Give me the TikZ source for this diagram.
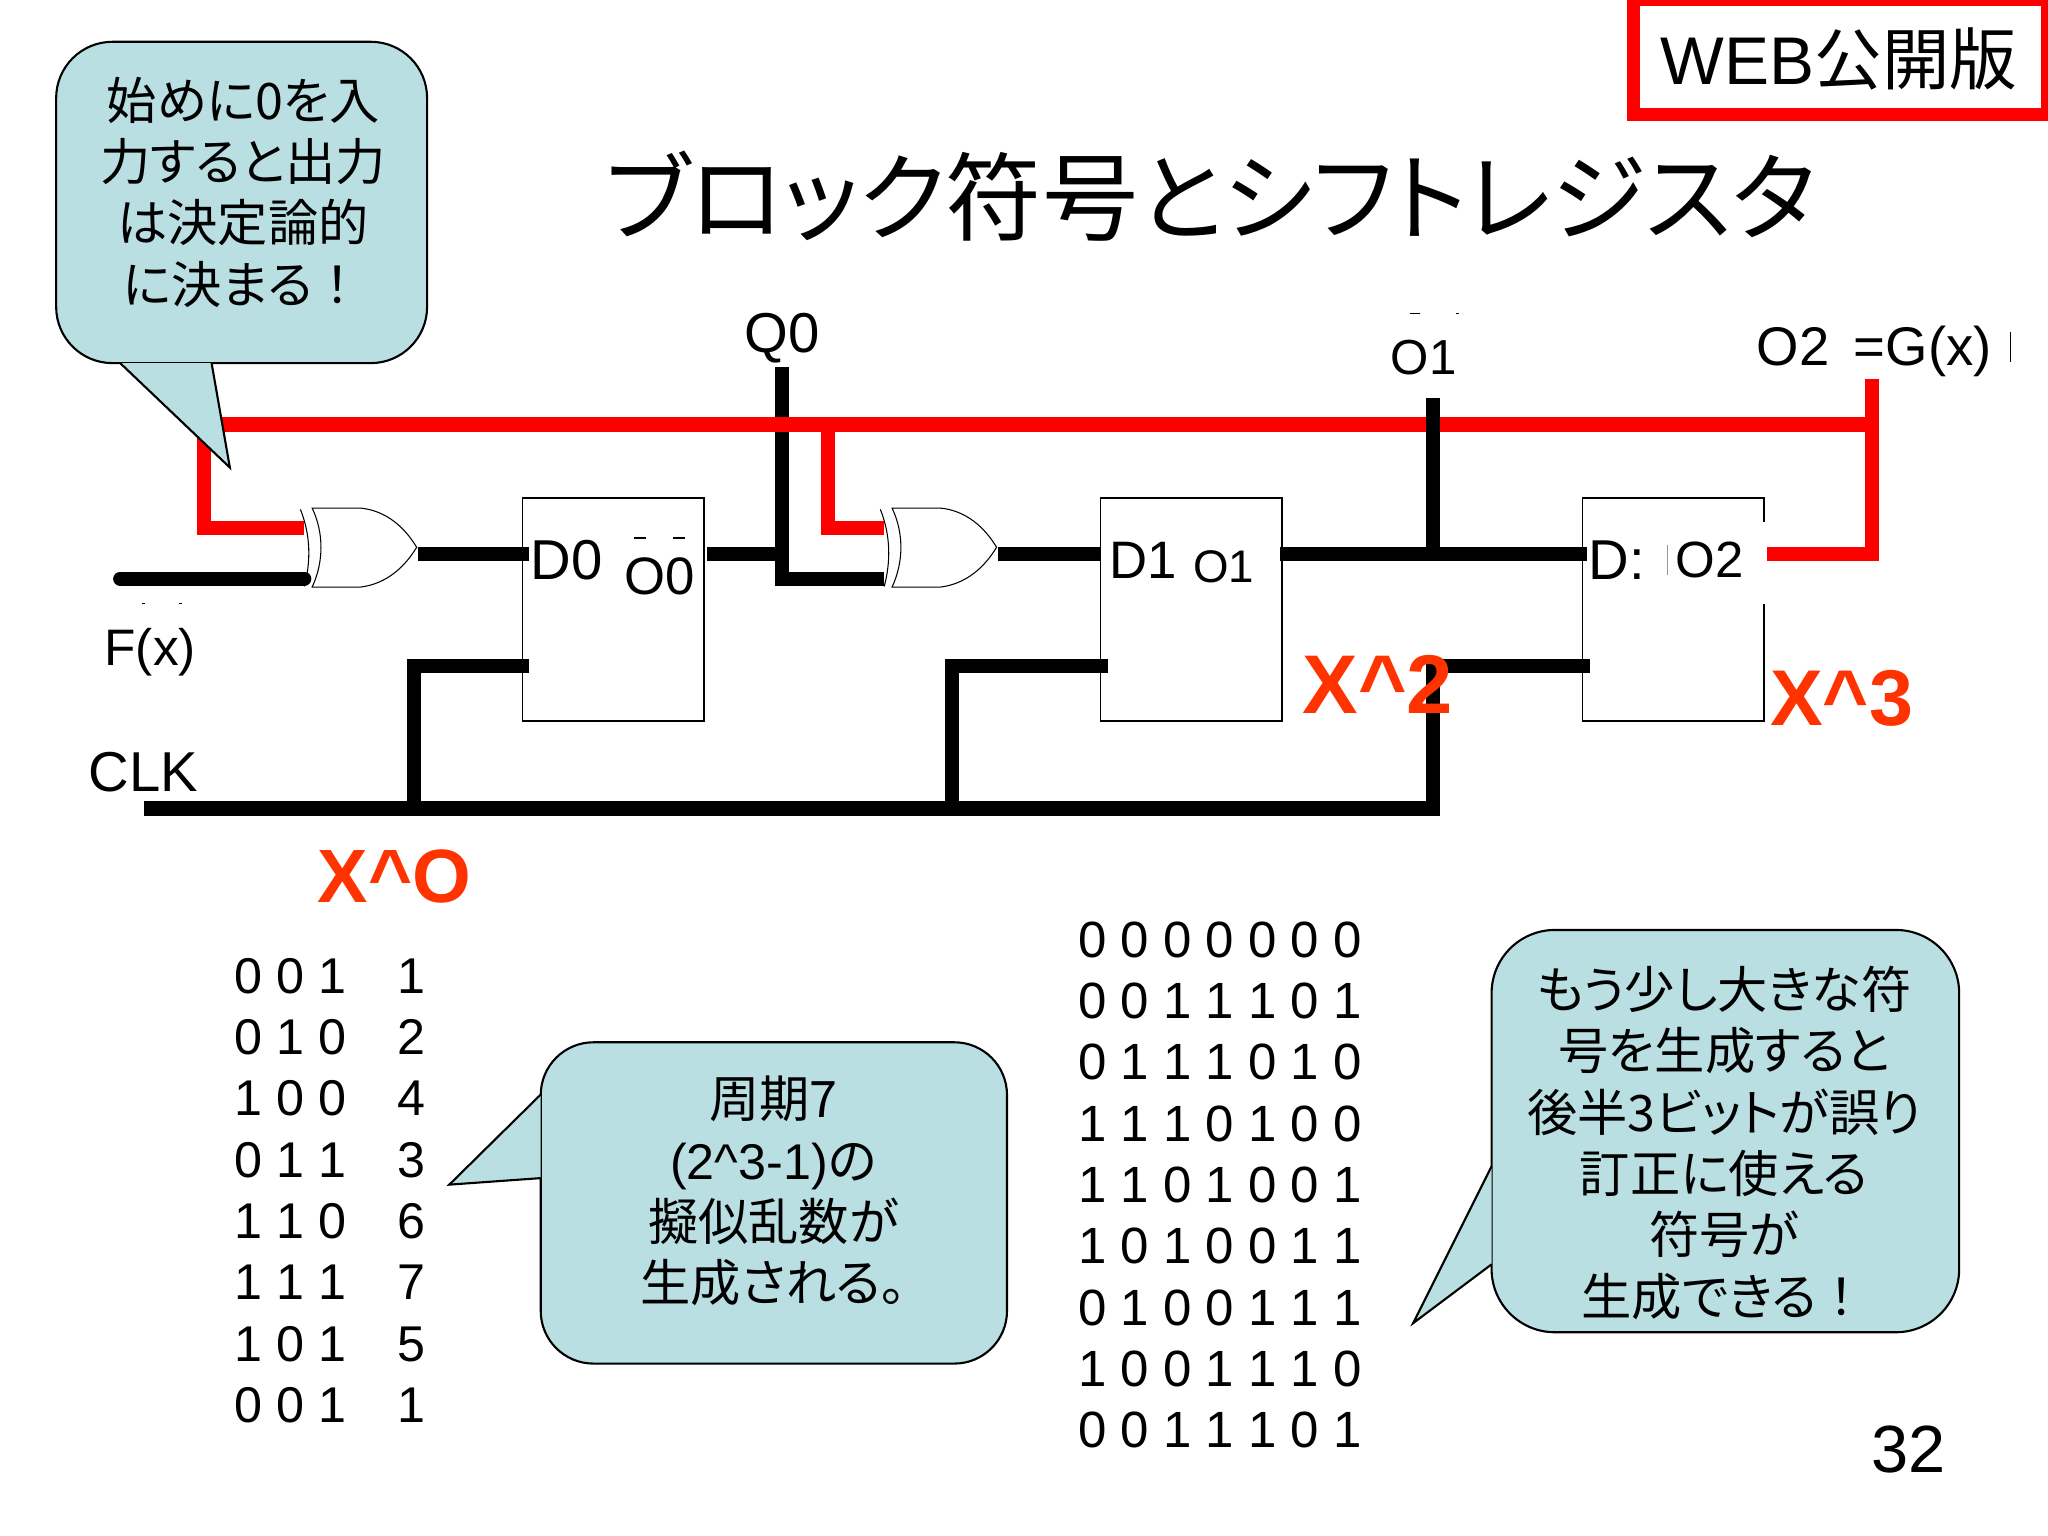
\documentclass[tikz,border=0pt]{standalone}
\usepackage{fontspec}
\setmainfont{Liberation Sans}
\newfontfamily\cjk[RawFeature=+palt]{Noto Sans CJK JP}
\newfontfamily\cjkfull{Noto Sans CJK JP}
\definecolor{bubblefill}{HTML}{B9DFE3}
\definecolor{powerred}{HTML}{FF3300}
\begin{document}
\begin{tikzpicture}[x=0.013061cm,y=-0.013061cm,
    wire/.style={line width=4pt,line join=miter},
    redwire/.style={wire,color=red},
    gateline/.style={line width=.3pt,fill=white},
    ff/.style={draw,fill=white,line width=.5pt,minimum width=1.815cm,minimum height=2.233cm,inner sep=0pt},
    bubble/.style={draw,fill=bubblefill,line width=.6pt},
    tail/.style={line width=.6pt,line join=miter},
    talk/.style={align=center,inner sep=0pt,font=\fontsize{14.3}{17.45}\selectfont\cjk},
    lab/.style={inner sep=0pt,font=\fontsize{16}{18}\selectfont},
    power/.style={inner sep=0pt,text=powerred,font=\fontsize{#1}{24}\selectfont\bfseries},
    tbl/.style={inner sep=0pt,align=left,font=\fontsize{#1}{17.45}\selectfont},
    speck/.style={fill=black,inner sep=0pt,minimum width=#1,minimum height=.5pt},
    patch/.style={fill=white,inner sep=0pt,minimum width=.07cm,minimum height=.82cm}]
  \useasboundingbox (0,0) rectangle (1568,1176);

  \coordinate (gtop) at (1433,325);
  \coordinate (gend) at (1433,290);
  \coordinate (gin) at (1433,424);
  \coordinate (rleft) at (156,325);
  \coordinate (rmid) at (634,325);
  \coordinate (qtop) at (599,281);
  \coordinate (qbot) at (599,443);
  \coordinate (qjoin) at (599,424);
  \coordinate (otop) at (1097,305);
  \coordinate (ojoin) at (1097,424);
  \coordinate (clkl) at (110,619);
  \coordinate (clka) at (317,619);
  \coordinate (clkb) at (729,619);
  \coordinate (clkc) at (1097,619);

  \foreach \gx/\gname in {0/ga,444/gb} {
    \coordinate (\gname r) at (233+\gx,404);
    \coordinate (\gname f) at (233+\gx,443);
    \coordinate (\gname o) at (320+\gx,424);
    \draw[gateline,fill=none] (230+\gx,390) .. controls (238+\gx,410) and (238+\gx,430) .. (233+\gx,449);
    \draw[gateline] (239+\gx,389) -- (276+\gx,389) .. controls (296+\gx,391) and (310+\gx,404) .. (319+\gx,419)
      .. controls (310+\gx,434) and (296+\gx,447) .. (276+\gx,449.5) -- (239+\gx,449.5)
      .. controls (248+\gx,430) and (248+\gx,408) .. cycle;
  }

  \node[ff] (d0) at (469.5,466.5) {};
  \node[ff] (d1) at (912,466.5) {};
  \node[ff] (d2) at (1281,466.5) {};
  \node[patch] (gap) at (1351,431) {};

  \coordinate (d0i) at (405,424);
  \coordinate (d0o) at (541,424);
  \coordinate (d0c) at (405,510);
  \coordinate (d1i) at (842,424);
  \coordinate (d1o) at (980,424);
  \coordinate (d1c) at (848,510);
  \coordinate (d2i) at (1215,424);
  \coordinate (d2o) at (1353,424);
  \coordinate (d2c) at (1217,510);
  \coordinate (fin) at (92,443);

  \draw[wire,line cap=round] (fin) -- (gaf);
  \draw[wire] (gao) -- (d0i);
  \draw[wire] (d0o) -- (qjoin);
  \draw[wire] (qtop) -- (qbot) -- (gbf);
  \draw[wire] (gbo) -- (d1i);
  \draw[wire] (d1o) -- (d2i);
  \draw[wire] (d0c) -| (clka);
  \draw[wire] (d1c) -| (clkb);
  \draw[wire] (d2c) -| (clkc) -- (clkl);

  \draw[redwire] (gtop) -- (rleft) -- (rleft |- gar) -- (gar);
  \draw[redwire] (rmid) -- (rmid |- gbr) -- (gbr);
  \draw[redwire] (gend) -- (gin) -- (d2o);
  \draw[wire] (otop) -- (ojoin);

  \draw[bubble,rounded corners=16pt] (43,32) rectangle (327,278);
  \fill[bubblefill] (92,278) -- (176,358) -- (162,278) -- cycle;
  \draw[tail] (92,278) -- (176,358) -- (162,278);
  \draw[bubble,rounded corners=15pt] (414,798) rectangle (771,1044);
  \fill[bubblefill] (414,838) -- (344,907) -- (414,902) -- cycle;
  \draw[tail] (414,838) -- (344,907) -- (414,902);
  \draw[bubble,rounded corners=18pt] (1142,712) rectangle (1500,1020);
  \fill[bubblefill] (1142,893) -- (1082,1013) -- (1142,968) -- cycle;
  \draw[tail] (1142,893) -- (1082,1013) -- (1142,968);

  \node[talk] (callstart) at (186,147) {始めに0を入\\力すると出力\\は決定論的\\に決まる{\cjkfull ！}};
  \node[talk] (callperiod) at (592,912) {周期7\\{\normalfont (2\^{}3-1)}の\\擬似乱数が\\生成される。};
  \node[talk] (calllarge) at (1320,875) {もう少し大きな符\\号を生成すると\\後半3ビットが誤り\\訂正に使える\\符号が\\生成できる{\cjkfull ！}};

  \node[draw=red,line width=3.7pt,fill=white,minimum width=4.14cm,minimum height=1.15cm,inner sep=0pt] (webbox) at (1409.5,44) {};
  \node[inner sep=0pt,font=\fontsize{19.2}{22}\selectfont] (webtext) at (1408,45) {WEB{\cjk 公開版}};
  \node[inner sep=0pt,font=\fontsize{27.4}{32}\selectfont\cjk] (title) at (927,150) {ブロック符号とシフトレジスタ};

  \node[lab] (q0) at (599,259) {Q0};
  \node[lab,font=\fontsize{14}{16}\selectfont] (o1top) at (1090,274) {O1};
  \node[lab,font=\fontsize{15.5}{16}\selectfont] (g2) at (1435,269) {O2 \,=G(x)};
  \node[lab,font=\fontsize{14.6}{16}\selectfont] (fx) at (115,499) {F(x)};
  \node[lab] (clk) at (110,591) {CLK};
  \node[lab] (d0t) at (434,429) {D0};
  \node[lab,font=\fontsize{15}{16}\selectfont] (o0) at (505,441) {O0};
  \node[lab,font=\fontsize{15}{16}\selectfont] (d1t) at (875,429) {D1};
  \node[lab,font=\fontsize{13}{16}\selectfont] (o1) at (937,434) {O1};
  \node[lab] (d2t) at (1238,429) {D:};
  \node[lab,font=\fontsize{14.5}{16}\selectfont] (o2) at (1309,429) {O2};

  \node[speck=.12cm] (s1) at (490,412) {};
  \node[speck=.12cm] (s2) at (520,412) {};
  \node[speck=.1cm] (s3) at (1083,240) {};
  \node[speck=.03cm] (s4) at (1116,240) {};
  \node[speck=.03cm] (s5) at (110,462) {};
  \node[speck=.03cm] (s6) at (138,462) {};
  \node[speck=.01cm,minimum height=.3cm] (s7) at (1539,266) {};
  \node[speck=.01cm,minimum height=.3cm,opacity=.4] (s8) at (1277,429) {};

  \node[power=21.5] (x0) at (302,671) {X\^{}O};
  \node[power=23.7] (x2) at (1055,524) {X\^{}2};
  \node[power=22.5] (x3) at (1410,535) {X\^{}3};

  \node[tbl=14.3,anchor=north west] (seqa) at (179,733) {0 0 1\hspace{.51cm}1\\0 1 0\hspace{.51cm}2\\1 0 0\hspace{.51cm}4\\0 1 1\hspace{.51cm}3\\1 1 0\hspace{.51cm}6\\1 1 1\hspace{.51cm}7\\1 0 1\hspace{.51cm}5\\0 0 1\hspace{.51cm}1};
  \node[tbl=14.5,anchor=north west] (seqb) at (825,705) {0 0 0 0 0 0 0\\0 0 1 1 1 0 1\\0 1 1 1 0 1 0\\1 1 1 0 1 0 0\\1 1 0 1 0 0 1\\1 0 1 0 0 1 1\\0 1 0 0 1 1 1\\1 0 0 1 1 1 0\\0 0 1 1 1 0 1};
  \node[inner sep=0pt,font=\fontsize{19}{22}\selectfont] (page) at (1461,1110) {32};
\end{tikzpicture}
\end{document}
